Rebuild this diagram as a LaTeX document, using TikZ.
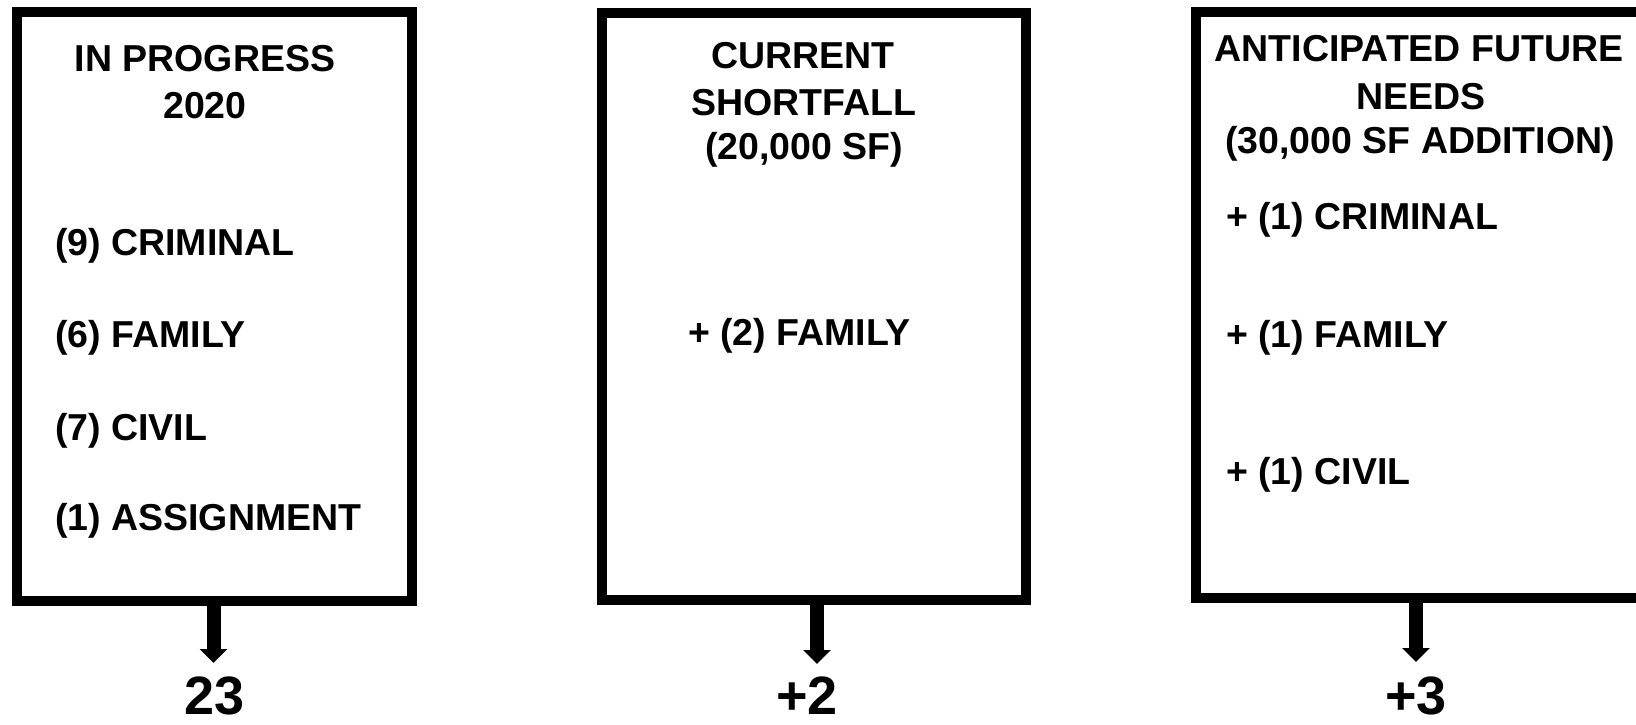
\documentclass[tikz,border=0pt]{standalone}
\usepackage{fontspec}
\setmainfont{Liberation Sans}
\usetikzlibrary{arrows.meta}
\begin{document}
\begin{tikzpicture}[x=1pt,y=-1pt,
  box/.style={draw=black, line width=10pt, fill=white, rectangle, inner sep=0pt},
  txt/.style={inner sep=0pt, font=\bfseries\fontsize{37.5}{45}\selectfont},
  numtxt/.style={inner sep=0pt, font=\bfseries\fontsize{54}{62}\selectfont},
  arr/.style={line width=14pt, -{Triangle[width=27pt,length=14pt]}}]
\useasboundingbox (0,0) rectangle (1636,725);
\clip (0,0) rectangle (1636,725);
% boxes
\node[box, minimum width=395.5pt, minimum height=588.5pt] (b1) at (214.25,306.75) {};
\node[box, minimum width=424pt, minimum height=586.5pt] (b2) at (814,306.75) {};
\node[box, minimum width=470pt, minimum height=585.5pt] (b3) at (1431,305.25) {};
% box 1 texts
\node[txt, anchor=base] (t1a) at (205,72) {IN PROGRESS};
\node[txt, anchor=base] (t1b) at (205,118) {2020};
\node[txt, anchor=base west] (l1a) at (55,255) {(9) CRIMINAL};
\node[txt, anchor=base west] (l1b) at (55,347) {(6) FAMILY};
\node[txt, anchor=base west] (l1c) at (55,440) {(7) CIVIL};
\node[txt, anchor=base west] (l1d) at (55,530) {(1) ASSIGNMENT};
% box 2 texts
\node[txt, anchor=base] (t2a) at (803,69) {CURRENT};
\node[txt, anchor=base] (t2b) at (804,115) {SHORTFALL};
\node[txt, anchor=base] (t2c) at (804,159) {(20,000 SF)};
\node[txt, anchor=base west] (l2a) at (688,345) {+ (2) FAMILY};
% box 3 texts
\node[txt, anchor=base] (t3a) at (1419,62) {ANTICIPATED FUTURE};
\node[txt, anchor=base] (t3b) at (1421,109) {NEEDS};
\node[txt, anchor=base] (t3c) at (1420,153) {(30,000 SF ADDITION)};
\node[txt, anchor=base west] (l3a) at (1226,229) {+ (1) CRIMINAL};
\node[txt, anchor=base west] (l3b) at (1226,347) {+ (1) FAMILY};
\node[txt, anchor=base west] (l3c) at (1226,484) {+ (1) CIVIL};
% totals
\node[numtxt, anchor=base] (n1) at (215,714) {23};
\node[numtxt, anchor=base] (n2) at (807,714) {+2};
\node[numtxt, anchor=base] (n3) at (1416,714) {+3};
% arrows
\coordinate (tip1) at (213.5,663);
\coordinate (tip2) at (817,664);
\coordinate (tip3) at (1416,662);
\draw[arr] (b1.south -| tip1) -- (tip1);
\draw[arr] (b2.south -| tip2) -- (tip2);
\draw[arr] (b3.south -| tip3) -- (tip3);
\end{tikzpicture}
\end{document}
